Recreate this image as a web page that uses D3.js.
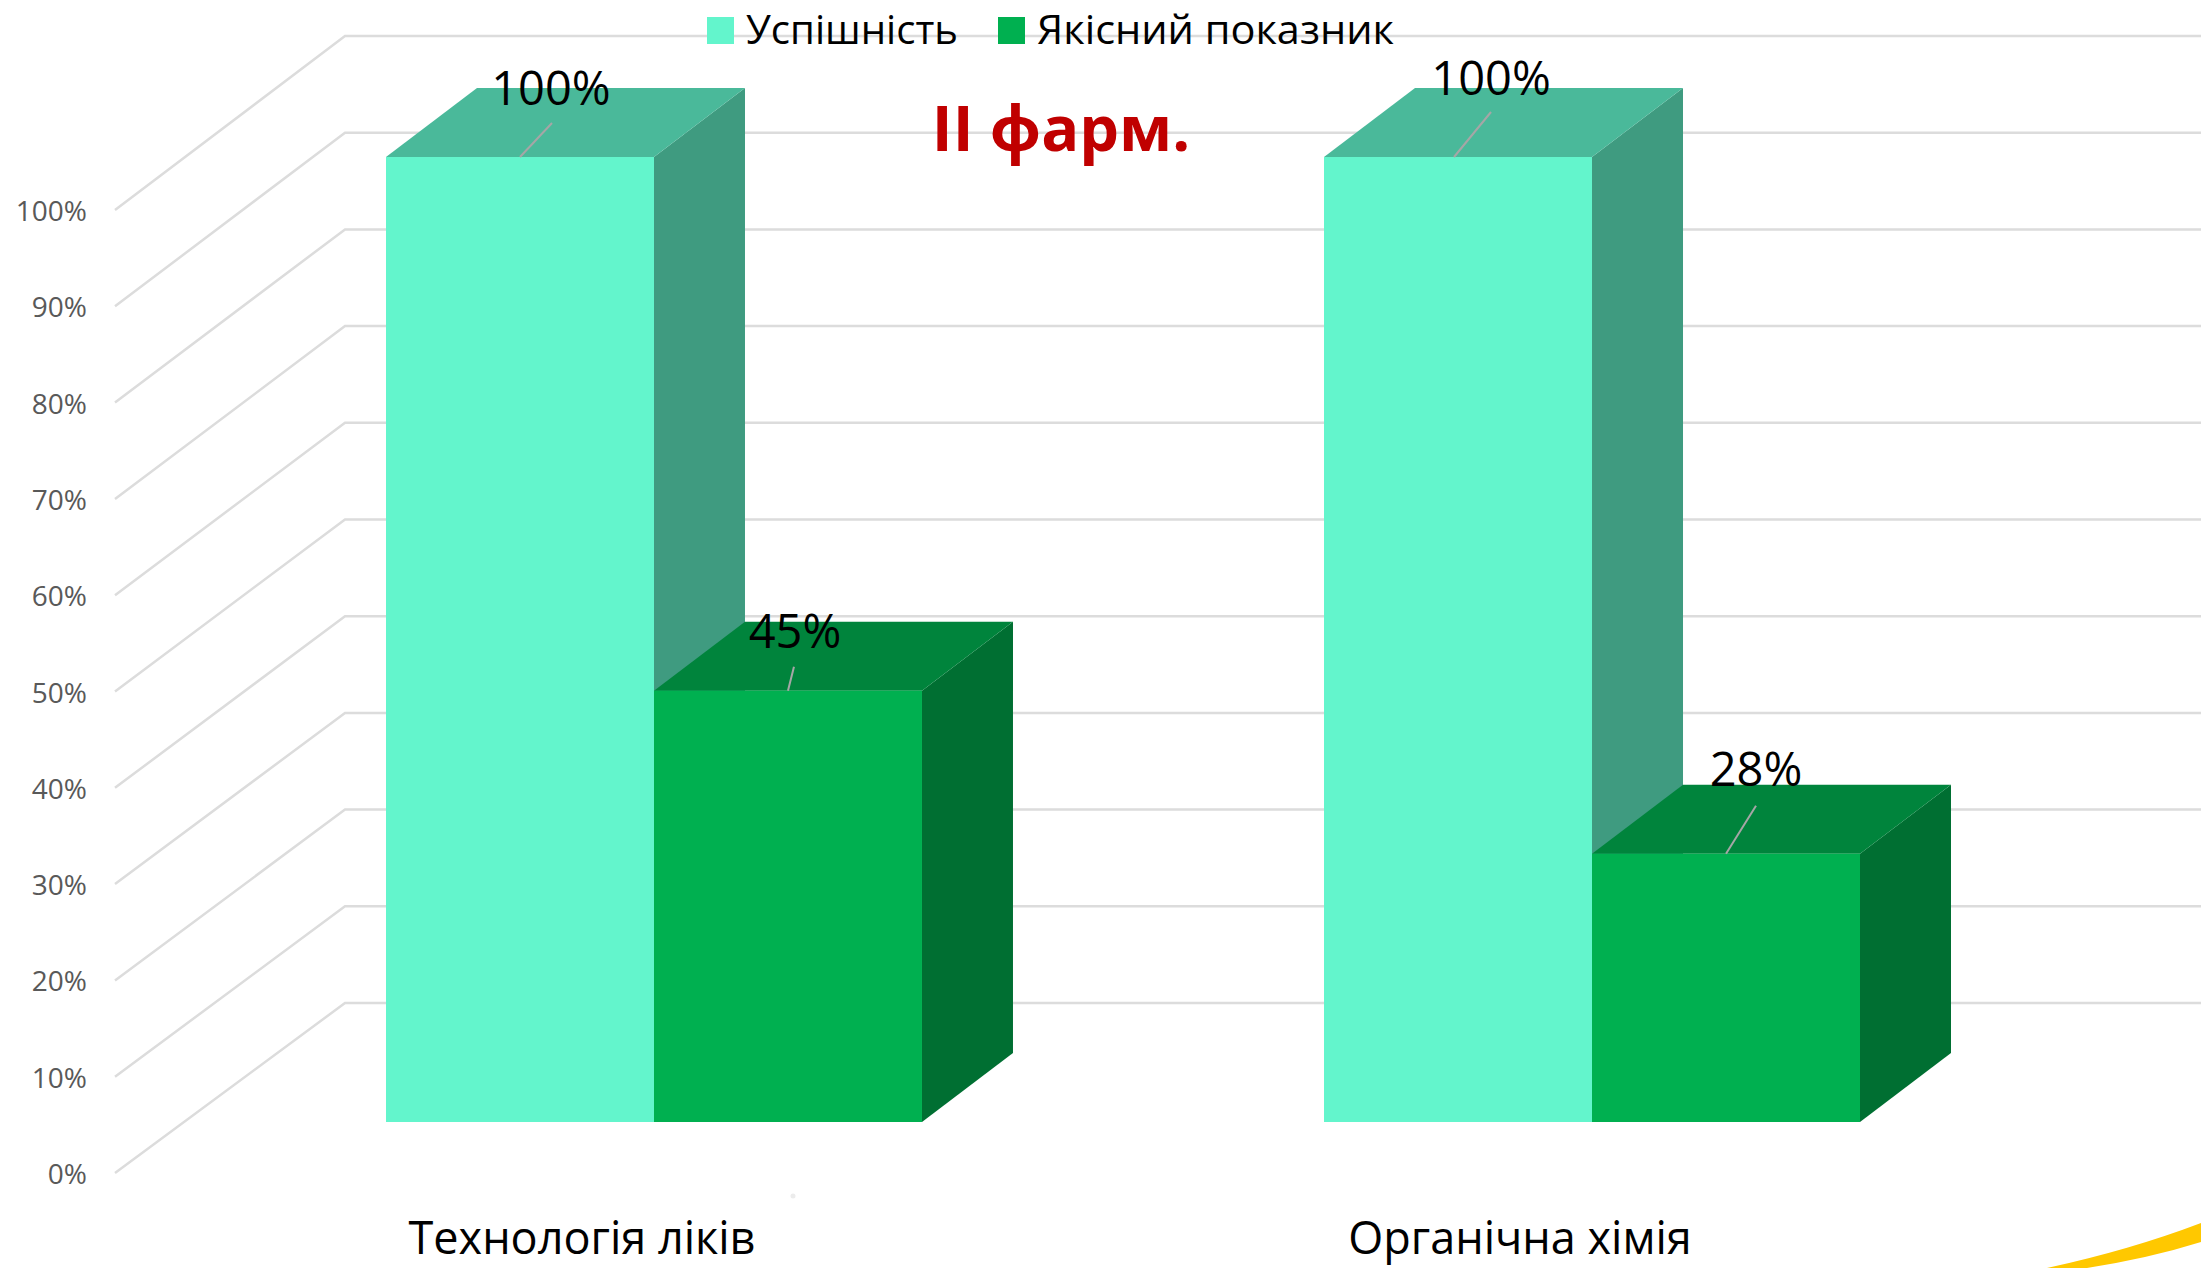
<!DOCTYPE html>
<html>
<head>
<meta charset="utf-8">
<script src="https://cdn.jsdelivr.net/npm/d3@7/dist/d3.min.js"></script>
<style>
body { margin: 0; background: #fff; }
svg { display: block; }
text { font-family: "Open Sans", sans-serif; }
</style>
</head>
<body>
<svg id="chart" width="2201" height="1268"></svg>
<script>
const categories = ["Технологія ліків", "Органічна хімія"];
const seriesNames = ["Успішність", "Якісний показник"];
const uspishnist = [100, 100];
const yakisnyi = [44.7, 27.8]; // bar heights, labels round them
const tickValues = [0, 10, 20, 30, 40, 50, 60, 70, 80, 90, 100];

const width = 2201, height = 1268;
const svg = d3.select("#chart");

// three parallel value scales: floor front edge, bar front face, back wall
const yFront = d3.scaleLinear().domain([0, 100]).range([1173, 210]);
const yBar = d3.scaleLinear().domain([0, 100]).range([1122, 157]);
const yWall = d3.scaleLinear().domain([0, 100]).range([1003, 36]);

const xGroup = d3.scaleBand().domain(categories).range([386, 1860]).paddingInner(0.4286);
const xSeries = d3.scaleBand().domain(seriesNames).range([0, xGroup.bandwidth()]);

const depthX = 91, depthY = 69; // bar depth
const wallX = 345, frontX = 115;

const faces = [
    {front: "#63f5cc", top: "#4ab99a", side: "#3f9b80"},
    {front: "#00b050", top: "#00843c", side: "#006f32"}
];

// gridlines
const grid = svg.append("g").attr("fill", "none").attr("stroke", "#dcdcdc").attr("stroke-width", 2.5);
tickValues.forEach(t => {
    grid.append("path").attr("d", `M${frontX},${yFront(t)}L${wallX},${yWall(t)}L${width},${yWall(t)}`);
});

// y tick labels
svg.append("g").selectAll("text").data(tickValues).join("text")
    .attr("x", 87)
    .attr("y", d => yFront(d) + 11)
    .attr("text-anchor", "end")
    .attr("font-size", 28)
    .attr("fill", "#595959")
    .text(d => d + "%");

// bars, left to right so later ones cover earlier side faces
const bars = [];
categories.forEach((c, i) => {
    bars.push({cat: c, series: 0, value: uspishnist[i]});
    bars.push({cat: c, series: 1, value: yakisnyi[i]});
});

function barX(d) {
    return xGroup(d.cat) + xSeries(seriesNames[d.series]);
}

const barG = svg.append("g").selectAll("g").data(bars).join("g");

barG.append("path") // side
    .attr("fill", d => faces[d.series].side)
    .attr("d", d => {
        let x = barX(d) + xSeries.bandwidth(), y0 = yBar(0), y1 = yBar(d.value);
        return `M${x},${y0}L${x},${y1}L${x + depthX},${y1 - depthY}L${x + depthX},${y0 - depthY}Z`;
    });

barG.append("path") // top
    .attr("fill", d => faces[d.series].top)
    .attr("d", d => {
        let x = barX(d), w = xSeries.bandwidth(), y1 = yBar(d.value);
        return `M${x},${y1}L${x + depthX},${y1 - depthY}L${x + w + depthX},${y1 - depthY}L${x + w},${y1}Z`;
    });

barG.append("rect") // front
    .attr("fill", d => faces[d.series].front)
    .attr("x", d => barX(d))
    .attr("y", d => yBar(d.value))
    .attr("width", xSeries.bandwidth())
    .attr("height", d => yBar(0) - yBar(d.value));

// data labels with leader lines, offsets from the middle of the bar's top edge
const labelOffsets = [
    {lx: 32, ly: -34, tx: 31, ty: -52},
    {lx: 6, ly: -24, tx: 7, ty: -43},
    {lx: 33, ly: -45, tx: 33, ty: -62},
    {lx: 30, ly: -48, tx: 30, ty: -68}
];

barG.append("line")
    .attr("stroke", "#a6a6a6")
    .attr("stroke-width", 2)
    .attr("x1", (d, i) => barX(d) + xSeries.bandwidth() / 2 + (i == 2 ? -4 : 0))
    .attr("y1", d => yBar(d.value))
    .attr("x2", (d, i) => barX(d) + xSeries.bandwidth() / 2 + labelOffsets[i].lx)
    .attr("y2", (d, i) => yBar(d.value) + labelOffsets[i].ly);

barG.append("text")
    .attr("text-anchor", "middle")
    .attr("font-size", 47)
    .attr("fill", "#000")
    .attr("x", (d, i) => barX(d) + xSeries.bandwidth() / 2 + labelOffsets[i].tx)
    .attr("y", (d, i) => yBar(d.value) + labelOffsets[i].ty)
    .text(d => Math.round(d.value) + "%");

// category labels, kept just inside the bottom edge
svg.append("g").selectAll("text").data(categories).join("text")
    .attr("x", d => xGroup(d) + xGroup.bandwidth() / 2 - 72)
    .attr("y", 1254)
    .attr("text-anchor", "middle")
    .attr("font-size", 45)
    .attr("fill", "#000")
    .text(d => d);

// legend
const legendX = [707, 998];
const legendTextWidth = [212, 357];
const legend = svg.append("g").selectAll("g").data(seriesNames).join("g")
    .attr("transform", (d, i) => `translate(${legendX[i]},17)`);
legend.append("rect").attr("width", 27).attr("height", 27).attr("fill", (d, i) => faces[i].front);
legend.append("text")
    .attr("x", 39)
    .attr("y", 27)
    .attr("font-size", 41)
    .attr("fill", "#000")
    .attr("textLength", (d, i) => legendTextWidth[i])
    .attr("lengthAdjust", "spacingAndGlyphs")
    .text(d => d);

// title
svg.append("text")
    .attr("x", 1061)
    .attr("y", 151)
    .attr("text-anchor", "middle")
    .attr("font-size", 63)
    .attr("font-weight", 700)
    .attr("fill", "#c00000")
    .text("ІІ фарм.");

// yellow swoosh of the slide template in the corner, and the small speck below the first bar
svg.append("path")
    .attr("fill", "#ffc800")
    .attr("d", `M2047,${height}Q2130,1250 2201,1223L2201,1242Q2150,1258 2087,${height}Z`);
svg.append("circle").attr("cx", 793).attr("cy", 1196).attr("r", 2.5).attr("fill", "#ececec");
</script>
</body>
</html>
